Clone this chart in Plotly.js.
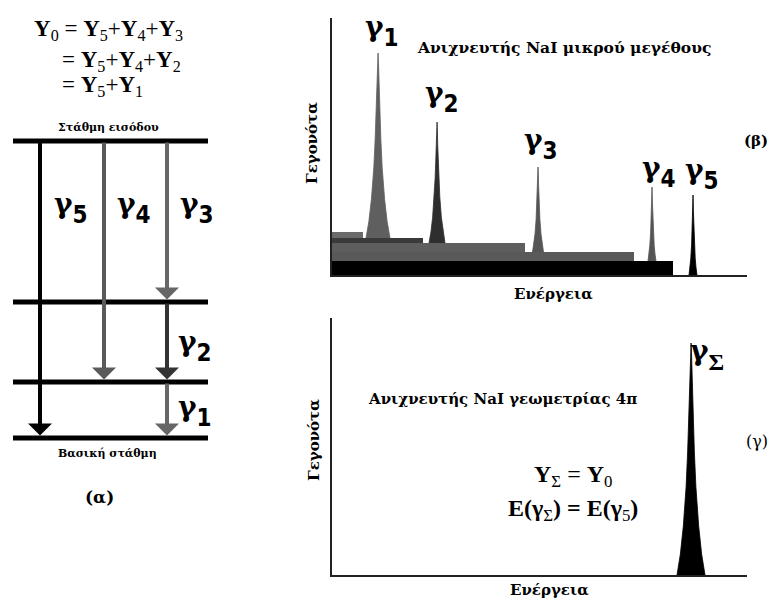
<!DOCTYPE html>
<html><head><meta charset="utf-8">
<script src="https://cdn.plot.ly/plotly-3.0.1.min.js"></script>
<style>html,body{margin:0;padding:0;background:#fff}#chart{width:770px;height:602px}</style>
</head><body><div id="chart"></div>
<script>
// ---------------- data ----------------
const gammaIndex = ['1', '2', '3', '4', '5'];
// (β) small NaI detector: photopeaks
const peakEnergy = [46, 105, 206, 320, 361];
const peakCounts = [222, 153, 108, 88, 80];
const peakHalfWidth = [12, 8, 5.5, 4, 4];
// (β) Compton continua (edge energy, thickness in counts)
const comptonEdge = [31, 91, 193, 302, 341];
const comptonCounts = [6, 5, 9, 9, 14];
// (γ) 4π NaI detector: sum peak
const sumPeakEnergy = 359;
const sumPeakCounts = 232;
const sumPeakHalfWidth = 14;
// measured peak profile (fraction of height, fraction of base half-width)
const profileH = [0, 0.09, 0.21, 0.38, 0.53, 0.67, 0.81, 0.96, 1];
const profileW = [1, 0.76, 0.55, 0.35, 0.24, 0.16, 0.09, 0.035, 0.005];
// (α) level scheme
const levelEnergy = [0, 56, 136, 297];
const transFrom = [1, 2, 3, 3, 3];
const transTo = [0, 1, 2, 1, 0];

// ---------------- styles ----------------
const W = 770, H = 602;
const px = v => v / W, py = v => 1 - v / H;
const peakColors = ['#5f5f5f', '#2e2e2e', '#555555', '#555555', '#000000'];
const comptonColors = ['#6a6a6a', '#3a3a3a', '#5e5e5e', '#595959', '#000000'];
const arrowColors = ['#666666', '#333333', '#666666', '#5a5a5a', '#000000'];
const arrowX = [167, 167, 167, 104, 40];
const SERIF = 'Liberation Serif, DejaVu Serif, serif';
const GREEK = 'DejaVu Serif, Liberation Serif, serif';

const traces = [];
function peakTrace(e, base, top, hw, color, xa, ya) {
  const xs = [], ys = [];
  for (let i = 0; i < profileH.length; i++) { xs.push(e - profileW[i] * hw); ys.push(base + profileH[i] * (top - base)); }
  for (let i = profileH.length - 1; i >= 0; i--) { xs.push(e + profileW[i] * hw); ys.push(base + profileH[i] * (top - base)); }
  return {x: xs, y: ys, xaxis: xa, yaxis: ya, mode: 'lines', fill: 'toself', fillcolor: color,
    line: {color: color, width: 0.8}, hoverinfo: 'skip', showlegend: false};
}
// continua stacked: gamma 5 at bottom
for (let i = 4; i >= 0; i--) {
  let bottom = 0;
  for (let j = i + 1; j < 5; j++) bottom += comptonCounts[j];
  const top = bottom + comptonCounts[i];
  traces.push({x: [0, comptonEdge[i], comptonEdge[i], 0], y: [bottom, bottom, top, top], xaxis: 'x', yaxis: 'y',
    mode: 'lines', fill: 'toself', fillcolor: comptonColors[i], line: {width: 0}, hoverinfo: 'skip', showlegend: false});
}
for (let i = 0; i < 5; i++) {
  let base = 0;
  for (let j = i + 1; j < 5; j++) base += comptonCounts[j];
  traces.push(peakTrace(peakEnergy[i], base, peakCounts[i], peakHalfWidth[i], peakColors[i], 'x', 'y'));
}
traces.push(peakTrace(sumPeakEnergy, 0, sumPeakCounts, sumPeakHalfWidth, '#000000', 'x2', 'y2'));
// levels
for (let k = 0; k < levelEnergy.length; k++) {
  traces.push({x: [13, 208], y: [levelEnergy[k], levelEnergy[k]], xaxis: 'x3', yaxis: 'y3', mode: 'lines',
    line: {color: '#000', width: 5}, hoverinfo: 'skip', showlegend: false});
}

const ann = [];
function txt(text, x, y, size, opts, fam) {
  ann.push(Object.assign({text: text, x: px(x), y: py(y), xref: 'paper', yref: 'paper', showarrow: false,
    xanchor: 'center', yanchor: 'middle', font: {family: fam || SERIF, size: size, color: '#000'}}, opts || {}));
}
// gamma label: γ with a narrow bold subscript, one text; (gx, gy) ~ centre of the γ glyph
function gammaLabel(sub, gx, gy, subFam) {
  const fam = subFam || 'Liberation Sans Narrow, DejaVu Sans Condensed, sans-serif';
  txt('<b><span style="font-size:28px">γ</span><sub><span style="font-family:' + fam + ';font-size:24px">' + sub + '</span></sub></b>',
      gx - 10, gy, 46, {xanchor: 'left'}, GREEK);
}
// arrows
for (let i = 0; i < 5; i++) {
  ann.push({x: arrowX[i], y: levelEnergy[transTo[i]], ax: arrowX[i], ay: levelEnergy[transFrom[i]],
    xref: 'x3', yref: 'y3', axref: 'x3', ayref: 'y3', text: '', showarrow: true,
    arrowhead: 1, arrowsize: 1, arrowwidth: 4, arrowcolor: arrowColors[i], standoff: 2.5});
}
// (α) texts
txt('<b>Y</b><sub>0</sub> = <b>Y</b><sub>5</sub>+<b>Y</b><sub>4</sub>+<b>Y</b><sub>3</sub>', 32, 30, 23, {xanchor: 'left'});
txt('= <b>Y</b><sub>5</sub>+<b>Y</b><sub>4</sub>+<b>Y</b><sub>2</sub>', 60, 61, 23, {xanchor: 'left'});
txt('= <b>Y</b><sub>5</sub>+<b>Y</b><sub>1</sub>', 60, 86, 23, {xanchor: 'left'});
txt('<b>Στάθμη εισόδου</b>', 108, 127, 11, null, GREEK);
txt('<b>Βασική στάθμη</b>', 107, 453, 11, null, GREEK);
txt('<b>(α)</b>', 100, 497, 17, null, GREEK);
gammaLabel(gammaIndex[4], 62, 208);
gammaLabel(gammaIndex[3], 125, 208);
gammaLabel(gammaIndex[2], 188, 208);
gammaLabel(gammaIndex[1], 186, 346);
gammaLabel(gammaIndex[0], 186, 411);
// (β) texts
txt('<b>Ανιχνευτής NaI μικρού μεγέθους</b>', 564, 47, 15.5, null, GREEK);
txt('<b>(β)</b>', 756, 141, 15, null, GREEK);
txt('<b>Ενέργεια</b>', 553, 294, 15, null, GREEK);
txt('<b>Γεγονότα</b>', 312, 143, 15, {textangle: -90}, GREEK);
gammaLabel(gammaIndex[0], 373, 31);
gammaLabel(gammaIndex[1], 433, 97);
gammaLabel(gammaIndex[2], 532, 144);
gammaLabel(gammaIndex[3], 650, 172);
gammaLabel(gammaIndex[4], 693, 174);
// (γ) texts
txt('<b>Ανιχνευτής NaI γεωμετρίας 4π</b>', 502, 399, 15, null, GREEK);
txt('<b>Y</b><sub>Σ</sub> = <b>Y</b><sub>0</sub>', 573, 476, 24);
txt('<b>E(</b><b>γ</b><sub>Σ</sub><b>) = E(</b><b>γ</b><sub>5</sub><b>)</b>', 573, 510, 24);
txt('(γ)', 757, 441, 16, null, GREEK);
txt('<b>Ενέργεια</b>', 549, 590, 15, null, GREEK);
txt('<b>Γεγονότα</b>', 314, 440, 15, {textangle: -90}, GREEK);
gammaLabel('Σ', 698, 354, 'Liberation Serif, DejaVu Serif, serif');

const axisBase = {showline: true, linecolor: '#222', linewidth: 2, showticklabels: false, ticks: '',
  showgrid: false, zeroline: false, fixedrange: true};
const layout = {
  width: W, height: H, margin: {l: 0, r: 0, t: 0, b: 0}, paper_bgcolor: '#fff', plot_bgcolor: 'rgba(0,0,0,0)',
  showlegend: false,
  xaxis: Object.assign({}, axisBase, {domain: [px(332), px(747)], range: [0, 415], anchor: 'y'}),
  yaxis: Object.assign({}, axisBase, {domain: [py(275), py(18)], range: [0, 257], anchor: 'x'}),
  xaxis2: Object.assign({}, axisBase, {domain: [px(332), px(747)], range: [0, 415], anchor: 'y2'}),
  yaxis2: Object.assign({}, axisBase, {domain: [py(575), py(318)], range: [0, 257], anchor: 'x2'}),
  xaxis3: {domain: [0, px(260)], range: [0, 260], visible: false, fixedrange: true, anchor: 'y3'},
  yaxis3: {domain: [0, 1], range: [-164, 438], visible: false, fixedrange: true, anchor: 'x3'},
  annotations: ann
};
Plotly.newPlot('chart', traces, layout, {staticPlot: true});
</script></body></html>
